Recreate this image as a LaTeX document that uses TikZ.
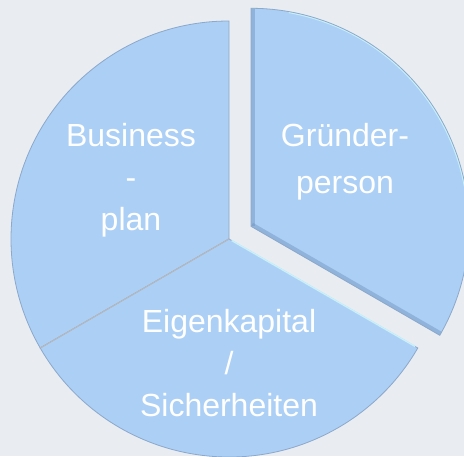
\documentclass[tikz,border=0pt]{standalone}
\usepackage{fontspec}
\setmainfont{Liberation Sans}
\usetikzlibrary{calc}

\definecolor{bgcol}{HTML}{E9ECF0}
\definecolor{piefill}{RGB}{172,207,246}
\definecolor{pieedge}{RGB}{140,168,202}
\definecolor{piedark}{RGB}{110,145,190}
\definecolor{pieglow}{RGB}{200,240,250}

\tikzset{
  slice/.style={fill=piefill, draw=pieedge, line width=0.8pt},
  slicelabel/.style={text=white, align=center, font=\fontsize{32}{42}\selectfont},
}

\begin{document}
\begin{tikzpicture}[x=1pt,y=1pt]
        \fill[bgcol] (0,0) rectangle (464,456);
        \useasboundingbox (0,0) rectangle (464,456);

        \coordinate (C) at (229,217);
        \coordinate (E) at (251,229.7);

        \begin{scope}
            \clip (0,0) rectangle (464,456);
            % left and bottom slices
            \draw[slice] (C) -- ++(90:218) arc (90:210:218) -- cycle;
            \draw[slice] (C) -- ++(210:218) arc (210:330:218) -- cycle;
            \draw[pieglow, line width=1.5pt] ($(C)+(330:215)$) -- ($(C)+(330:3)$);
            \draw[gray!55, line width=1pt] (C) -- ++(210:218);
            % exploded slice
            \begin{scope}
                \clip (E) -- ++(-30:218) arc (-30:90:218) -- cycle;
                \fill[piefill] (E) -- ++(-30:218) arc (-30:90:218) -- cycle;
                \draw[piedark, opacity=0.45, line width=8pt] (E) -- ++(90:218);
                \draw[piedark, opacity=0.45, line width=8pt] (E) -- ++(-30:218);
                \draw[pieglow, line width=3pt] ($(E)+(80:218)$) arc (80:-10:218);
            \end{scope}
            \draw[pieedge, line width=0.8pt] (E) -- ++(-30:218) arc (-30:90:218) -- cycle;
        \end{scope}

        \node[slicelabel] (business) at (131,276) {Business\\-\\plan};
        \node[slicelabel, font=\fontsize{32}{47}\selectfont] (gruender) at (345,294) {Gründer-\\person};
        \node[slicelabel] (eigen) at (229,93) {Eigenkapital\\/\\Sicherheiten};
    \end{tikzpicture}
\end{document}
